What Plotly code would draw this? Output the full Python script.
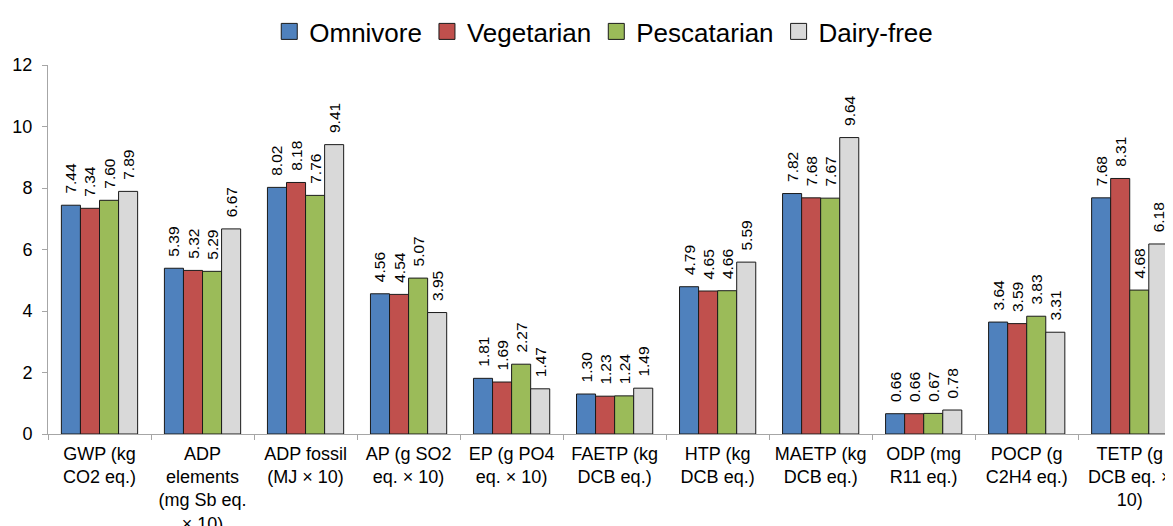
import plotly.graph_objects as go

categories = [
    "GWP (kg<br>CO2 eq.)",
    "ADP<br>elements<br>(mg Sb eq.<br>× 10)",
    "ADP fossil<br>(MJ × 10)",
    "AP (g SO2<br>eq. × 10)",
    "EP (g PO4<br>eq. × 10)",
    "FAETP (kg<br>DCB eq.)",
    "HTP (kg<br>DCB eq.)",
    "MAETP (kg<br>DCB eq.)",
    "ODP (mg<br>R11 eq.)",
    "POCP (g<br>C2H4 eq.)",
    "TETP (g<br>DCB eq. ×<br>10)",
]

omnivore = [7.44, 5.39, 8.02, 4.56, 1.81, 1.30, 4.79, 7.82, 0.66, 3.64, 7.68]
vegetarian = [7.34, 5.32, 8.18, 4.54, 1.69, 1.23, 4.65, 7.68, 0.66, 3.59, 8.31]
pescatarian = [7.60, 5.29, 7.76, 5.07, 2.27, 1.24, 4.66, 7.67, 0.67, 3.83, 4.68]
dairy_free = [7.89, 6.67, 9.41, 3.95, 1.47, 1.49, 5.59, 9.64, 0.78, 3.31, 6.18]

series = [
    ("Omnivore", omnivore, "#4F81BD"),
    ("Vegetarian", vegetarian, "#C0504D"),
    ("Pescatarian", pescatarian, "#9BBB59"),
    ("Dairy-free", dairy_free, "#D9D9D9"),
]

font = "Liberation Sans, Arial, sans-serif"
pad = "\u00a0\u00a0"

fig = go.Figure()
for name, vals, color in series:
    fig.add_trace(go.Bar(
        name=name,
        x=categories,
        y=vals,
        marker=dict(color=color, line=dict(color="#1a1a1a", width=1)),
        text=[f"{pad}{v:.2f}" for v in vals],
        textposition="outside",
        textangle=-90,
        constraintext="none",
        textfont=dict(family=font, size=15.5, color="#000000"),
        cliponaxis=False,
        showlegend=False,
    ))

# legend entries (larger square swatches)
for name, vals, color in series:
    fig.add_trace(go.Scatter(
        name=name,
        x=[None],
        y=[None],
        mode="markers",
        marker=dict(symbol="square", size=16, color=color,
                    line=dict(color="#1a1a1a", width=1)),
        showlegend=True,
    ))

fig.update_layout(
    width=1165,
    height=518,
    margin=dict(l=40, r=0, t=57, b=92, autoexpand=False),
    paper_bgcolor="white",
    plot_bgcolor="white",
    barmode="group",
    bargap=0.26,
    bargroupgap=0,
    font=dict(family=font, size=17, color="#000000"),
    legend=dict(
        orientation="h",
        x=0.494,
        xanchor="center",
        y=1.0,
        yref="container",
        yanchor="top",
        font=dict(family=font, size=26, color="#000000"),
        itemwidth=30,
        traceorder="normal",
        tracegroupgap=0,
    ),
    xaxis=dict(
        type="category",
        range=[-0.5, 10.42],
        automargin=False,
        showline=True,
        linecolor="#A6A6A6",
        linewidth=1,
        ticks="outside",
        tickson="boundaries",
        ticklen=5,
        tickcolor="#A6A6A6",
        showgrid=False,
        tickangle=0,
        ticklabelstandoff=3,
        tickfont=dict(family=font, size=18, color="#000000"),
    ),
    yaxis=dict(
        range=[0, 12],
        dtick=2,
        automargin=False,
        showline=True,
        linecolor="#A6A6A6",
        linewidth=1,
        ticks="outside",
        ticklen=5,
        tickcolor="#A6A6A6",
        showgrid=False,
        zeroline=False,
        ticklabelstandoff=6,
        tickfont=dict(family=font, size=18, color="#000000"),
    ),
)

fig.write_html("out.html")
